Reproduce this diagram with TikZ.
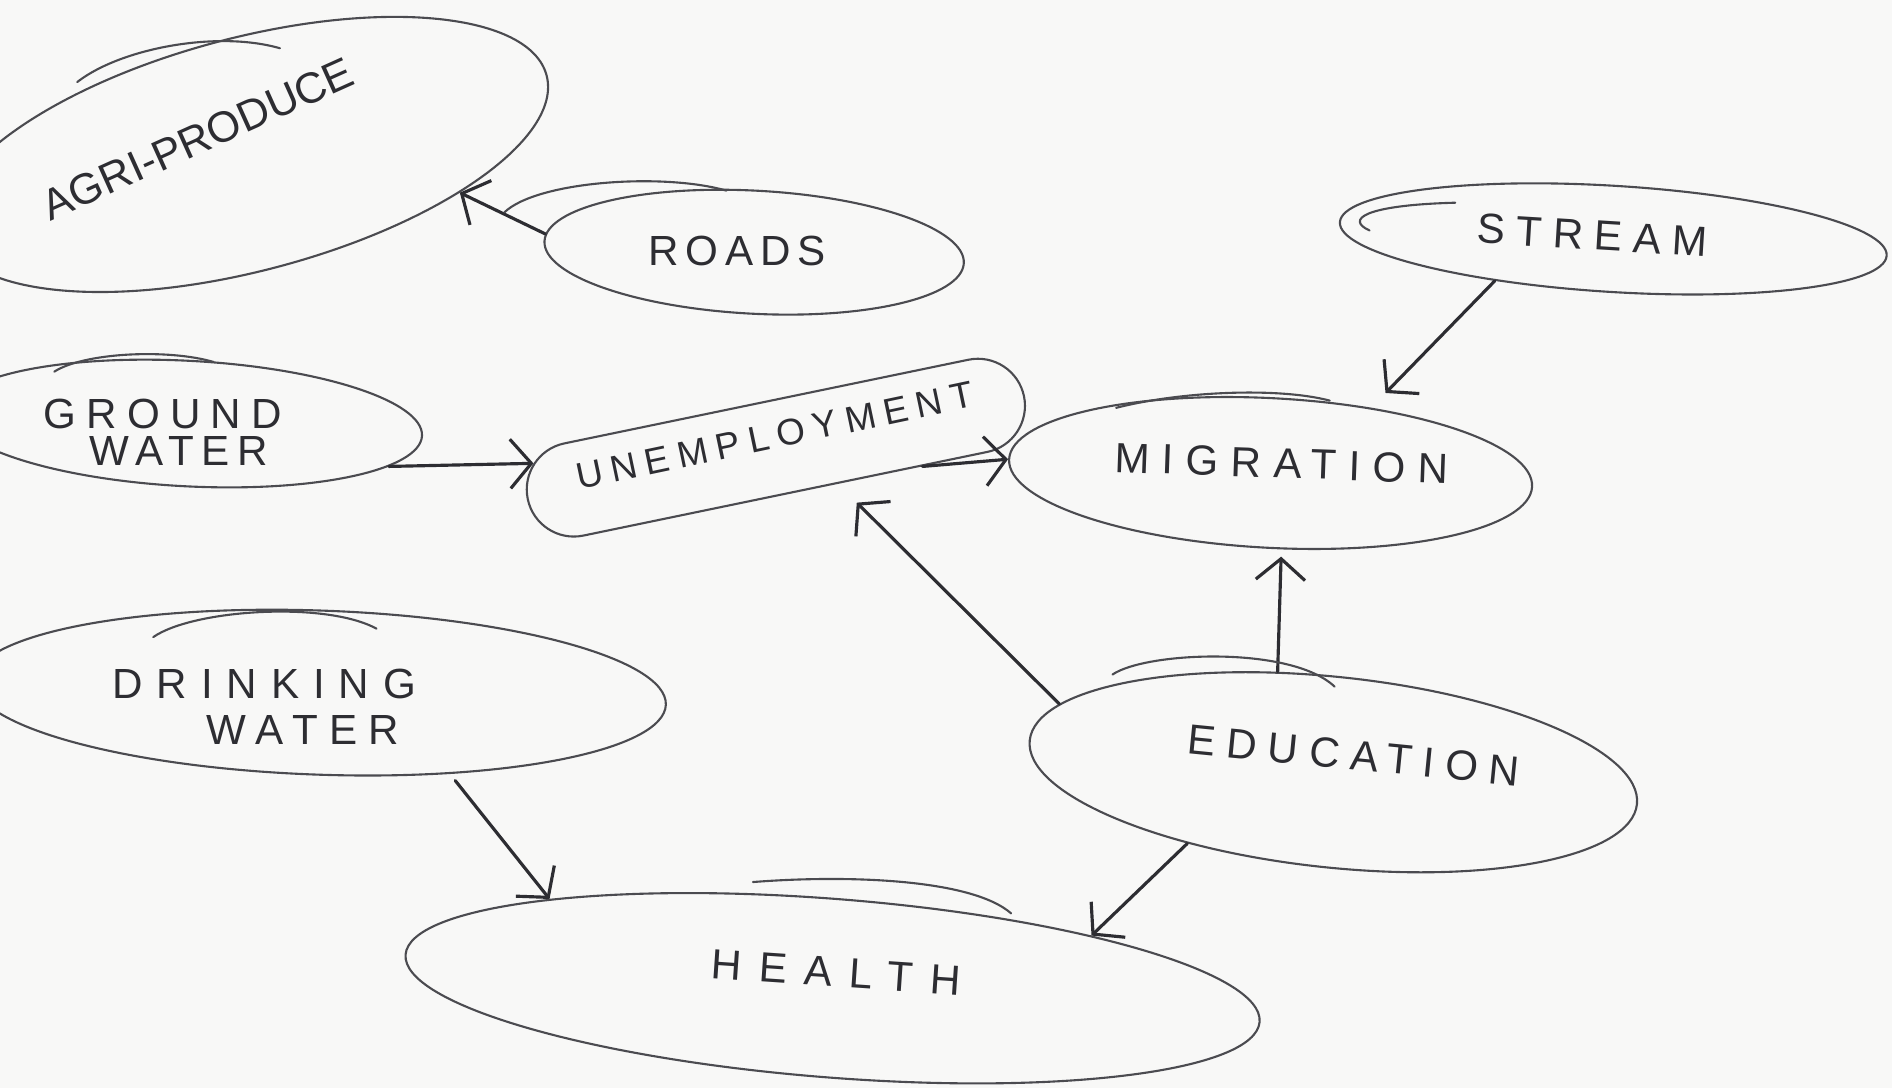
\documentclass[tikz,border=0pt]{standalone}
\usepackage{fontspec}
\setmainfont{Liberation Sans}
\usetikzlibrary{shapes.geometric,shapes.misc,arrows.meta}
\newdimen\skU \skU=0.012066cm
\definecolor{paper}{RGB}{248,248,247}
\definecolor{pen}{RGB}{75,75,80}
\definecolor{ink}{RGB}{45,45,50}
\newcommand\lsp[2]{{\addfontfeatures{LetterSpace=#1}#2}}
\begin{document}
\begin{tikzpicture}[x=0.012066cm, y=-0.012066cm,
  bub/.style n args={3}{ellipse, draw=pen, line width=0.6pt, inner sep=0pt,
     minimum width=#1\skU, minimum height=#2\skU, rotate=#3},
  lbl/.style={text=ink, inner sep=0pt, font=\fontsize{12}{14}\selectfont},
  arr/.style={draw=ink, line width=0.9pt, line cap=round,
     -{Straight Barb[length=6pt,width=14pt]}},
  extra/.style={draw=pen, line width=0.6pt, line cap=round}]
\fill[paper] (0,0) rectangle (1568,902);
\path[use as bounding box] (0,0) rectangle (1568,902);
\clip (0,0) rectangle (1568,902);

% bubbles
\node[bub={513}{193}{14.8}] (agri) at (205,128) {};
\node[bub={348}{102}{-3}] (roads) at (625,209) {};
\node[bub={454}{88}{-3.5}] (stream) at (1337,198) {};
\node[bub={390}{104}{-3}] (gnd) at (155,351) {};
\node[rounded rectangle, draw=pen, line width=0.6pt, inner sep=0pt,
      minimum width=420\skU, minimum height=78\skU, rotate=11.7] (unemp) at (643,371) {};
\node[bub={434}{124}{-3}] (mig) at (1053,392) {};
\node[bub={574}{136}{-2}] (drink) at (265,574) {};
\node[bub={506}{158}{-6}] (edu) at (1105,640) {};
\node[bub={710}{148}{-4.5}] (health) at (690,819) {};

% labels
\node[lbl, font=\fontsize{12.3}{14}\selectfont, rotate=24.2] (agrit) at (164,115) {AGRI-PRODUCE};
\node[lbl] (roadst) at (611,208) {\lsp{16}{ROADS}};
\node[lbl, rotate=-3.5] (streamt) at (1320,195) {\lsp{26}{STREAM}};
\node[lbl] (gndt1) at (135,343) {\lsp{24}{GROUND}};
\node[lbl] (gndt2) at (148,374) {\lsp{18}{WATER}};
\node[lbl, font=\fontsize{10.5}{12}\selectfont, rotate=11.9] (unempt) at (642,361) {\lsp{23}{UNEMPLOYMENT}};
\node[lbl, rotate=-2] (migt) at (1062,384) {\lsp{29}{MIGRATION}};
\node[lbl] (drinkt1) at (219,567) {\lsp{33}{DRINKING}};
\node[lbl] (drinkt2) at (251,605) {\lsp{27}{WATER}};
\node[lbl, rotate=-5.6] (edut) at (1122,626) {\lsp{26}{EDUCATION}};
\node[lbl, rotate=-3.9] (healtht) at (693,806) {\lsp{41}{HEALTH}};

% connectors
\draw[arr] (roads.178) -- (agri.-25.8);
\draw[arr] (gnd.-9) -- (unemp.172);
\draw[arr] (unemp.-19) -- (mig.180);
\draw[arr, shorten >=17\skU] (stream.203) -- (mig.36);
\draw[arr, shorten >=22\skU] (edu.172) -- (unemp.-42);
\draw[arr, shorten >=6\skU] (edu.125) -- (mig.-79);
\draw[arr, shorten <=7\skU] (drink.-30) -- (health.167);
\draw[arr] (edu.212) -- (health.16);

% sketchy extra strokes
\draw[extra] (64,68) .. controls (100,40) and (180,25) .. (232,40);
\draw[extra] (418,176) .. controls (445,150) and (550,143) .. (602,158);
\draw[extra] (45,308) .. controls (70,292) and (140,289) .. (177,300);
\draw[extra] (127,528) .. controls (160,505) and (270,498) .. (312,521);
\draw[extra] (1135,191) .. controls (1115,182) and (1130,170) .. (1206,168);
\draw[extra] (925,338) .. controls (980,324) and (1060,321) .. (1102,332);
\draw[extra] (922,559) .. controls (950,540) and (1070,535) .. (1106,569);
\draw[extra] (624,731) .. controls (700,725) and (805,728) .. (838,757);
\end{tikzpicture}
\end{document}
